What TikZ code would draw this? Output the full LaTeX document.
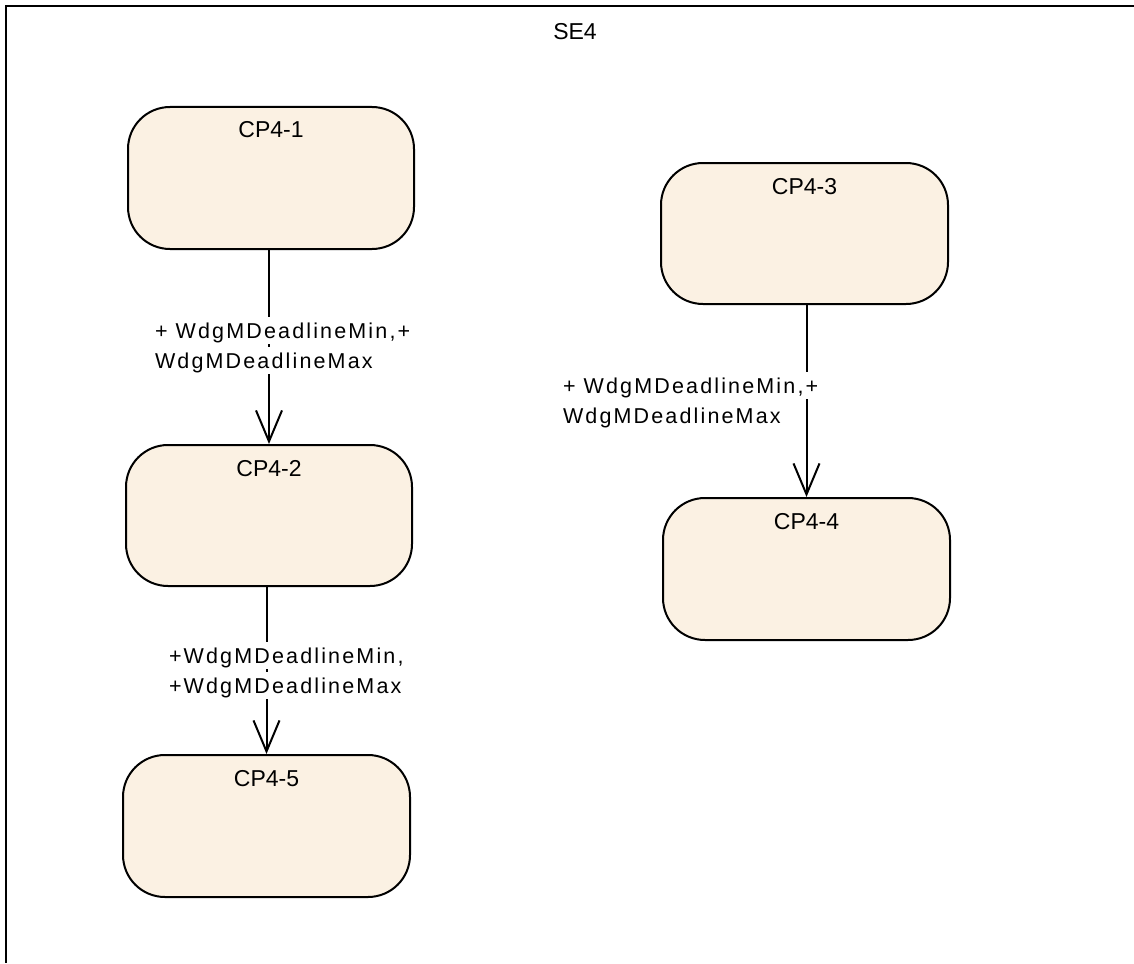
\documentclass[tikz,border=0pt]{standalone}
\usepackage{fontspec}
\setmainfont{Liberation Sans}
\newfontfamily\titlefont{Liberation Sans}
\newfontfamily\lblfont[LetterSpace=10]{Liberation Sans}
\usetikzlibrary{arrows.meta}
\definecolor{statefill}{RGB}{251,241,227}
\tikzset{
  statebox/.style={draw=black, line width=2pt, fill=statefill, rounded corners=42pt,
    anchor=north west, inner sep=0pt},
  conn/.style={draw=black, line width=2pt, -{Straight Barb[length=31pt,width=26pt]}},
  elabel/.style={fill=white, anchor=base west, inner xsep=0pt, inner ysep=0pt,
    text height=21pt, text depth=6pt, font=\lblfont\fontsize{21.5pt}{25pt}\selectfont},
  stitle/.style={anchor=base, font=\titlefont\fontsize{23pt}{27pt}\selectfont}
}
\begin{document}
\begin{tikzpicture}[x=1pt,y=-1pt]
\useasboundingbox (0,0) rectangle (1134,963);
% frame
\coordinate (ftr) at (1134,6);
\coordinate (ftl) at (6,6);
\coordinate (fbl) at (6,963);
\draw[line width=2.2pt] (ftr) -- (ftl) -- (fbl);
\node[stitle] (se4) at (575,40) {SE4};
% states
\node[statebox, minimum width=286pt, minimum height=142pt,
  label={[stitle, yshift=-32pt]north:CP4-1}] (c1) at (127,106) {};
\node[statebox, minimum width=286pt, minimum height=141pt,
  label={[stitle, yshift=-32pt]north:CP4-2}] (c2) at (125,444) {};
\node[statebox, minimum width=287pt, minimum height=142pt,
  label={[stitle, yshift=-32pt]north:CP4-5}] (c5) at (122,754) {};
\node[statebox, minimum width=287pt, minimum height=141pt,
  label={[stitle, yshift=-32pt]north:CP4-3}] (c3) at (660,162) {};
\node[statebox, minimum width=287pt, minimum height=142pt,
  label={[stitle, yshift=-32pt]north:CP4-4}] (c4) at (662,497) {};
% transitions
\draw[conn] (c1.south -| c2.north) -- (c2.north)
  node[elabel] (l1a) at (154,338) {+ WdgMDeadlineMin,+}
  node[elabel] (l1b) at (154,368) {WdgMDeadlineMax};
\draw[conn] (c2.south -| c5.north) -- (c5.north)
  node[elabel] (l2a) at (168,663) {+WdgMDeadlineMin,}
  node[elabel] (l2b) at (168,693) {+WdgMDeadlineMax};
\draw[conn] (c3.south -| c4.north) -- (c4.north)
  node[elabel] (l3a) at (562,393) {+ WdgMDeadlineMin,+}
  node[elabel] (l3b) at (562,423) {WdgMDeadlineMax};
\end{tikzpicture}
\end{document}
